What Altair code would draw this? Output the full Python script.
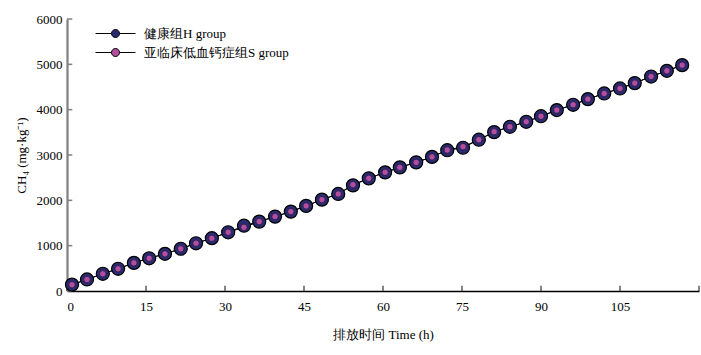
import altair as alt
import pandas as pd

# time (h) of each sample
time_h = [0.95, 3.8, 6.8, 9.7, 12.7, 15.6, 18.6, 21.6, 24.5, 27.5,
          30.6, 33.6, 36.5, 39.5, 42.5, 45.4, 48.4, 51.5, 54.3, 57.3,
          60.4, 63.2, 66.3, 69.3, 72.2, 75.2, 78.2, 81.1, 84.1, 87.2,
          90.0, 93.0, 96.1, 98.9, 102.0, 105.0, 107.8, 110.9, 113.9, 116.8]
# CH4 cumulative (mg/kg)
h_group = [140, 255, 380, 490, 620, 722, 820, 932, 1053, 1165,
           1295, 1440, 1531, 1641, 1751, 1877, 2015, 2141, 2330, 2485,
           2617, 2727, 2837, 2958, 3105, 3160, 3337, 3505, 3623, 3733,
           3855, 3991, 4108, 4233, 4357, 4467, 4586, 4731, 4857, 4982]
s_group = [137, 253, 379, 489, 621, 722, 819, 930, 1053, 1163,
           1295, 1405, 1531, 1641, 1751, 1877, 2015, 2141, 2346, 2485,
           2617, 2727, 2837, 2958, 3110, 3183, 3337, 3513, 3623, 3733,
           3855, 3991, 4108, 4233, 4357, 4467, 4586, 4731, 4857, 4982]
groups = ["健康组H group", "亚临床低血钙症组S group"]
colors = ["#2a2a70", "#b24ea0"]
x_ticks = [0, 15, 30, 45, 60, 75, 90, 105, 120]
x_labels = [0, 15, 30, 45, 60, 75, 90, 105]
y_ticks = [0, 1000, 2000, 3000, 4000, 5000, 6000]

df = pd.DataFrame({
    "t": time_h * 2,
    "v": h_group + s_group,
    "g": [groups[0]] * len(time_h) + [groups[1]] * len(time_h),
})
xt = pd.DataFrame({"t": x_ticks})
yt = pd.DataFrame({"v": y_ticks})

FONT = "Liberation Serif"

xs = alt.Scale(domain=[0, 120], nice=False, zero=False)
ys = alt.Scale(domain=[0, 6000], nice=False)

x_axis = alt.Axis(values=x_labels, title="排放时间 Time (h)", tickSize=0,
                  labelPadding=9, titlePadding=15, grid=False,
                  domainColor="#000000", domainWidth=1.5)
y_axis = alt.Axis(values=y_ticks, title="CH₄ (mg·kg⁻¹)", tickSize=0, format="d",
                  labelPadding=5, titlePadding=8, grid=False,
                  domainColor="#7f7f7f", domainWidth=2.2)

# legend glyph: short line with a circle in the middle
sym = "M-5,0L-1,0M1,0L5,0M-1,0A1,1,0,1,1,1,0A1,1,0,1,1,-1,0Z"

color_scale = alt.Scale(domain=groups, range=colors)

base = alt.Chart(df)

lines = base.mark_line(color="black", strokeWidth=1).encode(
    x=alt.X("t:Q", scale=xs, axis=x_axis),
    y=alt.Y("v:Q", scale=ys, axis=y_axis),
    detail="g:N",
)

h_pts = base.transform_filter(alt.datum.g == groups[0]).mark_point(
    filled=True, shape="circle", size=170, stroke="black", strokeWidth=1.2, opacity=1
).encode(
    x="t:Q", y="v:Q",
    fill=alt.Fill("g:N", scale=color_scale, legend=alt.Legend(
        title=None, orient="none", legendX=42, legendY=8,
        symbolType=sym, symbolSize=64, symbolStrokeColor="black",
        symbolStrokeWidth=1, labelFont=FONT, labelFontSize=13,
        labelColor="black", labelOffset=22, rowPadding=5, padding=0,
        labelLimit=400)),
)

s_pts = base.transform_filter(alt.datum.g == groups[1]).mark_point(
    filled=True, shape="circle", size=42, stroke="#1a1a40", strokeWidth=0.8, opacity=1
).encode(
    x="t:Q", y="v:Q",
    fill=alt.Fill("g:N", scale=color_scale),
)

xtick = alt.Chart(xt).mark_rule(color="#333333", strokeWidth=1.2).encode(
    x="t:Q", y=alt.datum(0), y2=alt.datum(115))
ytick = alt.Chart(yt).mark_rule(color="#7f7f7f", strokeWidth=1.5).encode(
    y="v:Q", x=alt.datum(0), x2=alt.datum(1.0))

chart = alt.layer(xtick, ytick, lines, h_pts, s_pts).properties(
    width=632, height=272,
    autosize=alt.AutoSizeParams(type="none"),
    padding={"left": 67, "top": 19, "right": 2, "bottom": 64},
).configure_view(stroke=None).configure_axis(
    labelFont=FONT, labelFontSize=13, labelColor="black",
    titleFont=FONT, titleFontSize=13, titleColor="black", titleFontWeight="normal",
)

chart.save("out.html", embed_options={"renderer": "svg", "actions": False})
